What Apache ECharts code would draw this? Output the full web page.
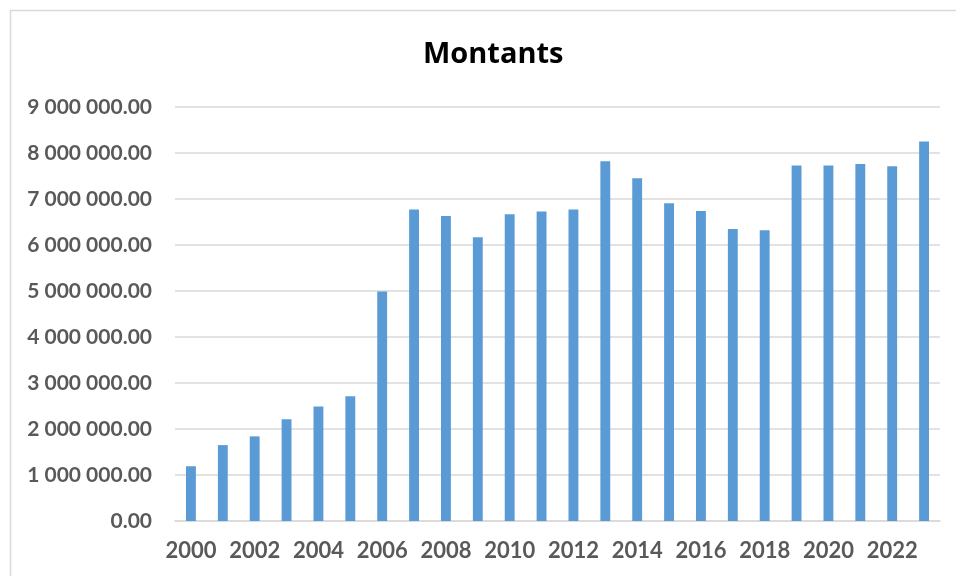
<!DOCTYPE html>
<html>
<head>
<meta charset="utf-8">
<script src="https://cdn.jsdelivr.net/npm/echarts@6/dist/echarts.min.js"></script>
<style>html,body{margin:0;padding:0;background:#fff}#c{width:956px;height:576px}</style>
</head>
<body>
<div id="c"></div>
<script>
const years = ['2000','2001','2002','2003','2004','2005','2006','2007','2008','2009','2010','2011','2012','2013','2014','2015','2016','2017','2018','2019','2020','2021','2022','2023'];
const montants = [1190000,1650000,1840000,2210000,2490000,2710000,4990000,6770000,6630000,6170000,6670000,6730000,6770000,7820000,7450000,6910000,6740000,6350000,6320000,7730000,7730000,7760000,7710000,8250000];
const chartTitle = 'Montants';

function fmt(v){
  const s = Math.round(v).toString().replace(/\B(?=(\d{3})+(?!\d))/g,' ');
  return s + '.00';
}
const chart = echarts.init(document.getElementById('c'), null, {renderer:'canvas'});
chart.setOption({
  animation:false,
  backgroundColor:'#fff',
  graphic:[{type:'rect',left:8,top:8,shape:{width:960,height:580},style:{fill:'none',stroke:'#d9d9d9',lineWidth:1.5},silent:true,z:-10}],
  title:{text:chartTitle,left:418,top:35,textStyle:{fontFamily:'Open Sans',fontWeight:'bold',fontSize:29,color:'#000'}},
  grid:{left:175,right:16,top:107,bottom:55},
  xAxis:{type:'category',data:years,
    axisLine:{lineStyle:{color:'#d9d9d9',width:1.5}},
    axisTick:{interval:1,length:7,lineStyle:{color:'#d9d9d9',width:1.5}},
    axisLabel:{interval:1,margin:19,fontFamily:'Lato',fontWeight:'bold',fontSize:22,color:'#595959'}},
  yAxis:{type:'value',min:0,max:9000000,interval:1000000,
    axisLine:{show:false},axisTick:{show:false},
    splitLine:{lineStyle:{color:'#d9d9d9',width:1.5}},
    axisLabel:{formatter:fmt,margin:23,fontFamily:'Lato',fontWeight:'bold',fontSize:21,color:'#595959'}},
  series:[{type:'bar',data:montants,barWidth:'31%',itemStyle:{color:'#5b9bd5'}}]
});
</script>
</body>
</html>
